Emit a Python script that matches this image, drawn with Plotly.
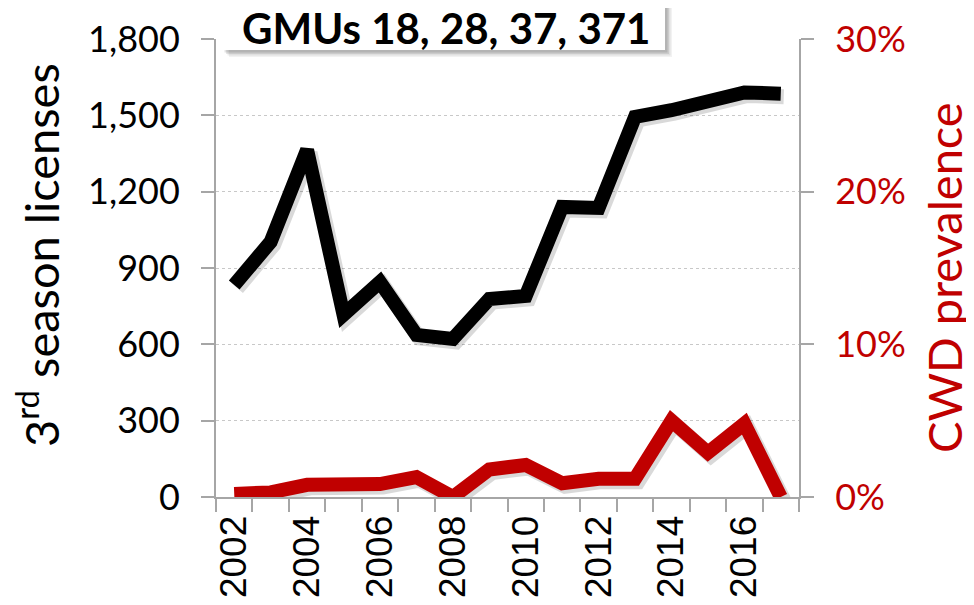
import plotly.graph_objects as go

years = list(range(2002, 2018))
licenses = [833, 1003, 1364, 716, 845, 637, 621, 778, 790, 1140, 1136, 1494, 1520, 1549, 1590, 1585]
cwd_pct = [0.2, 0.3, 0.8, 0.9, 0.85, 1.3, 0.0, 1.8, 2.1, 0.9, 1.2, 1.2, 5.0, 2.9, 4.8, 0.0]

year_ticks = [2002, 2004, 2006, 2008, 2010, 2012, 2014, 2016]
left_ticks = [0, 300, 600, 900, 1200, 1500, 1800]
left_text = ["0", "300", "600", "900", "1,200", "1,500", "1,800"]
right_ticks = [0, 10, 20, 30]
right_text = ["0%", "10%", "20%", "30%"]

W, H = 974, 605
BODY = 8  # page body margin offset
# plot area in screen pixels
PL, PR, PT, PB = 216, 799, 39, 497
pw = PR - PL
ph = PB - PT
ML = PL - BODY
MT = PT - BODY
MR = W - (PR - BODY)
MB = H - (PB - BODY)

RED = "#C00000"
AXC = "#A6A6A6"
TICKFONT = dict(family="Lato", size=36, color="black")

# shadow offsets (pixels -> data units)
sx = 3.0 / pw * 16
sy_l = 3.0 / ph * 1800
sy_r = 3.0 / ph * 30

fig = go.Figure()
fig.add_trace(go.Scatter(x=years, y=licenses, mode="lines", xaxis="x", yaxis="y",
                         line=dict(color="rgba(0,0,0,0.15)", width=15), hoverinfo="skip", showlegend=False))
fig.add_trace(go.Scatter(x=years, y=cwd_pct, mode="lines", xaxis="x", yaxis="y2",
                         line=dict(color="rgba(0,0,0,0.15)", width=15), hoverinfo="skip", showlegend=False))
fig.add_trace(go.Scatter(x=years, y=licenses, mode="lines", xaxis="x2", yaxis="y3",
                         line=dict(color="black", width=14), showlegend=False))
fig.add_trace(go.Scatter(x=years, y=cwd_pct, mode="lines", xaxis="x2", yaxis="y4",
                         line=dict(color=RED, width=14), showlegend=False))

hidden = dict(visible=False, showgrid=False, zeroline=False, automargin=False)

fig.update_layout(
    width=W, height=H,
    margin=dict(l=ML, r=MR, t=MT, b=MB, autoexpand=False),
    paper_bgcolor="white", plot_bgcolor="white",
    showlegend=False,
    xaxis=dict(range=[2001.5 - sx, 2017.5 - sx], **hidden),
    yaxis=dict(range=[0 + sy_l, 1800 + sy_l], **hidden),
    yaxis2=dict(range=[0 + sy_r, 30 + sy_r], overlaying="y", anchor="x", **hidden),
    xaxis2=dict(
        overlaying="x", anchor="y3", side="bottom", automargin=False,
        range=[2001.5, 2017.5],
        tickmode="array", tickvals=year_ticks, ticktext=[str(v) for v in year_ticks],
        ticks="", tickangle=-90,
        tickfont=dict(family="Liberation Sans", size=37, color="black"),
        ticklabelstandoff=2,
        showline=True, linecolor=AXC, linewidth=2,
        showgrid=False, zeroline=False,
        minor=dict(tickvals=[y - 0.5 for y in years] + [2017.5], ticks="outside",
                   ticklen=13, tickcolor=AXC, tickwidth=2, showgrid=False),
    ),
    yaxis3=dict(
        overlaying="y", anchor="x2", side="left", automargin=False,
        range=[0, 1800],
        tickmode="array", tickvals=left_ticks, ticktext=left_text,
        ticks="outside", ticklen=13, tickcolor=AXC, tickwidth=2,
        tickfont=TICKFONT, ticklabelstandoff=14,
        showline=True, linecolor=AXC, linewidth=2,
        showgrid=True, gridcolor="#C8C8C8", griddash="dot", gridwidth=1,
        zeroline=False,
    ),
    yaxis4=dict(
        overlaying="y", anchor="x2", side="right", automargin=False,
        range=[0, 30],
        tickmode="array", tickvals=right_ticks, ticktext=right_text,
        ticks="outside", ticklen=13, tickcolor=AXC, tickwidth=2,
        tickfont=dict(family="Lato", size=36, color=RED), ticklabelstandoff=14,
        showline=True, linecolor=AXC, linewidth=2,
        showgrid=False, zeroline=False,
    ),
)

def px_x(p):
    return (p - PL) / pw

def px_y(p):
    return (PB - p) / ph

# title box with soft shadow
for off, op in [(7, 0.05), (5.5, 0.07), (4, 0.09), (2.5, 0.11)]:
    fig.add_shape(type="rect", xref="paper", yref="paper",
                  x0=px_x(222 + off), x1=px_x(665 + off),
                  y0=px_y(50 + off), y1=px_y(-20),
                  fillcolor=f"rgba(0,0,0,{op})", line=dict(width=0), layer="above")
fig.add_shape(type="rect", xref="paper", yref="paper",
              x0=px_x(222), x1=px_x(665), y0=px_y(50), y1=px_y(-20),
              fillcolor="white", line=dict(width=0), layer="above")
fig.add_annotation(xref="paper", yref="paper", x=px_x(446), y=px_y(28),
                   text="<b>GMUs 18, 28, 37, 371</b>", showarrow=False,
                   font=dict(family="Lato", size=42, color="black"),
                   xanchor="center", yanchor="middle")

# axis titles
fig.add_annotation(xref="paper", yref="paper", x=px_x(38), y=px_y(255),
                   text="3<sup>rd</sup> season licenses", textangle=-90, showarrow=False,
                   font=dict(family="Lato", size=47, color="black"),
                   xanchor="center", yanchor="middle")
fig.add_annotation(xref="paper", yref="paper", x=px_x(944), y=px_y(278),
                   text="CWD prevalence", textangle=-90, showarrow=False,
                   font=dict(family="Lato", size=47, color=RED),
                   xanchor="center", yanchor="middle")

fig.write_html("out.html")
